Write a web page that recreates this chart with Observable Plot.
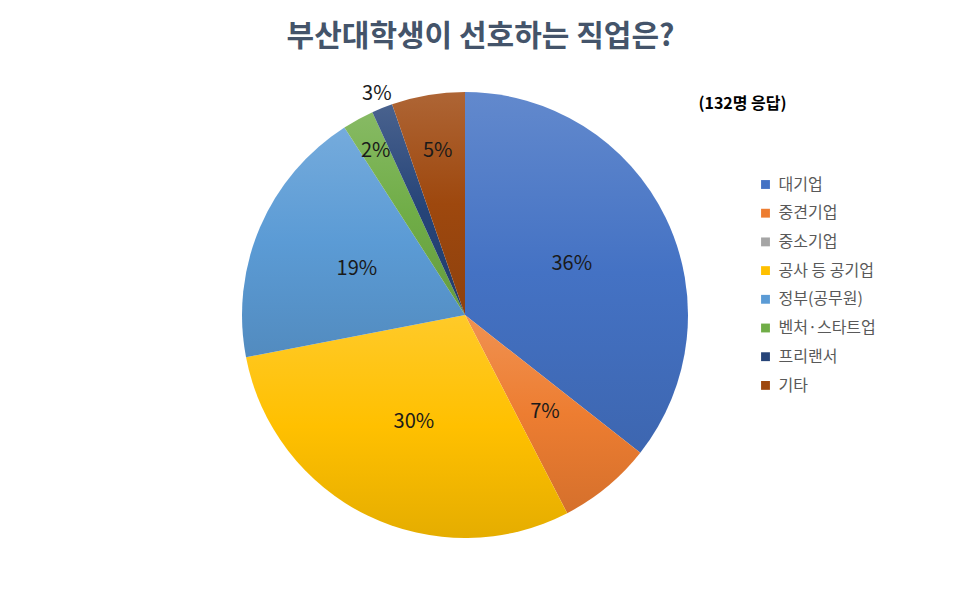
<!DOCTYPE html>
<html>
<head>
<meta charset="utf-8">
<script src="https://cdn.jsdelivr.net/npm/d3@7"></script>
<script src="https://cdn.jsdelivr.net/npm/@observablehq/plot@0.6"></script>
<style>
  html, body { margin: 0; padding: 0; background: #fff; }
  #chart svg { display: block; }
</style>
</head>
<body>
<div id="chart"></div>
<script>
// ---- data ----
const categories = ["대기업", "중견기업", "중소기업", "공사 등 공기업", "정부(공무원)", "벤처·스타트업", "프리랜서", "기타"];
const counts = [47, 9, 0, 39, 25, 3, 2, 7];           // respondents (of 132)
const labels = ["36%", "7%", "", "30%", "19%", "2%", "3%", "5%"];
const colors = ["#4472C4", "#ED7D31", "#A5A5A5", "#FFC000", "#5B9BD5", "#70AD47", "#264478", "#9E480E"];
const title = "부산대학생이 선호하는 직업은?";
const subtitle = "(132명 응답)";

// ---- layout ----
const W = 960, H = 607;
const CX = 465, CY = 315, R = 223;          // pie centre & radius in pixels
const px2x = px => (px - CX) / R;
const py2y = py => (CY - py) / R;
const FONT = "'Noto Sans CJK KR', 'Noto Sans', sans-serif";

const total = d3.sum(counts);
const arcs = d3.pie().sort(null).value(d => d)(counts);
const slices = categories.map((c, i) => ({
  i, category: c, count: counts[i], label: labels[i], color: colors[i],
  start: arcs[i].startAngle, end: arcs[i].endAngle, share: counts[i] / total
}));
function labelRadius(s) {
  return s.share > 0.1 ? 0.53 : s.share > 0.06 ? 0.56 : s.share > 0.04 ? 0.75 : s.share > 0.02 ? 0.84 : 1.07;
}
const mid = s => (s.start + s.end) / 2;

// pie drawn through the plot's x/y scales
function pieMark(index, scales) {
  const {x, y} = scales;
  const cx = x(0), cy = y(0), r = x(1) - x(0);
  const g = d3.create("svg:g");
  const defs = g.append("defs");
  slices.forEach(s => {
    const grad = defs.append("linearGradient")
      .attr("id", "pieGrad" + s.i)
      .attr("x1", 0).attr("y1", 0).attr("x2", 0).attr("y2", 1);
    grad.append("stop").attr("offset", "0%").attr("stop-color", d3.interpolateRgb(s.color, "#ffffff")(0.16));
    grad.append("stop").attr("offset", "50%").attr("stop-color", s.color);
    grad.append("stop").attr("offset", "100%").attr("stop-color", d3.color(s.color).darker(0.3).formatHex());
  });
  const arc = d3.arc().innerRadius(0).outerRadius(r);
  g.append("g")
    .attr("transform", `translate(${cx},${cy})`)
    .selectAll("path")
    .data(slices.filter(s => s.count > 0))
    .join("path")
    .attr("d", s => arc({startAngle: s.start, endAngle: s.end}))
    .attr("fill", s => `url(#pieGrad${s.i})`);
  return g.node();
}

const legendTop = 184, legendStep = 28.7, legendSwatchX = 765, legendTextX = 778;

const chart = Plot.plot({
  width: W,
  height: H,
  marginLeft: CX - R,
  marginRight: W - (CX + R),
  marginTop: CY - R,
  marginBottom: H - (CY + R),
  x: {domain: [-1, 1], axis: null},
  y: {domain: [-1, 1], axis: null},
  color: {type: "identity"},
  style: {fontFamily: FONT, background: "#fff", overflow: "visible"},
  marks: [
    pieMark,
    // slice labels
    Plot.text(slices.filter(s => s.label), {
      x: s => labelRadius(s) * Math.sin(mid(s)),
      y: s => labelRadius(s) * Math.cos(mid(s)),
      text: "label",
      fontSize: 20,
      fill: "#1a1a1a",
      fontFamily: FONT
    }),
    // title
    Plot.text([title], {
      x: px2x(480), y: py2y(36), text: d => d,
      fontSize: 30, fontWeight: "bold", fill: "#44546A", fontFamily: FONT
    }),
    // respondents note
    Plot.text([subtitle], {
      x: px2x(742), y: py2y(103), text: d => d,
      fontSize: 16, fontWeight: "bold", fill: "#000000", fontFamily: FONT
    }),
    // legend swatches
    Plot.dot(slices, {
      x: px2x(legendSwatchX),
      y: s => py2y(legendTop + legendStep * s.i),
      symbol: "square", r: 5, fill: "color", stroke: null
    }),
    // legend text
    Plot.text(slices, {
      x: px2x(legendTextX),
      y: s => py2y(legendTop + legendStep * s.i),
      text: "category", textAnchor: "start",
      fontSize: 16, fill: "#595959", fontFamily: FONT
    })
  ]
});

document.getElementById("chart").appendChild(chart);
</script>
</body>
</html>
